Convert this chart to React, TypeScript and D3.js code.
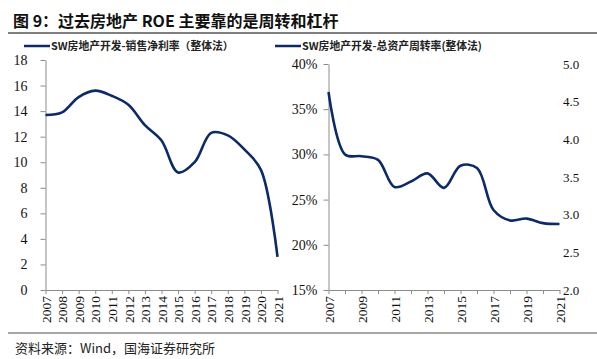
import { useRef, useEffect } from 'react';
import * as d3 from 'd3';

const years = ['2007', '2008', '2009', '2010', '2011', '2012', '2013', '2014', '2015', '2016', '2017', '2018', '2019', '2020', '2021'];
// 销售净利率 (%)
const netMargin = [13.7, 13.9, 15.1, 15.6, 15.2, 14.5, 12.9, 11.7, 9.2, 10.0, 12.3, 12.1, 11.0, 9.4, 2.6];
// 总资产周转率 (%)
const turnover = [36.9, 30.0, 29.8, 29.4, 26.4, 27.0, 27.9, 26.3, 28.75, 28.5, 23.85, 22.7, 22.9, 22.4, 22.3];

const leftTicks = [0, 2, 4, 6, 8, 10, 12, 14, 16, 18];
const pctTicks = [15, 20, 25, 30, 35, 40];
const rightTicks = [2.0, 2.5, 3.0, 3.5, 4.0, 4.5, 5.0];

const title = '图 9：过去房地产 ROE 主要靠的是周转和杠杆';
const legendA = 'SW房地产开发-销售净利率（整体法）';
const legendB = 'SW房地产开发-总资产周转率(整体法)';
const source = '资料来源：Wind，国海证券研究所';

const LINE = '#0c2a68';
const AXIS = '#8c8c8c';
const SERIF = '"Liberation Serif", "Times New Roman", serif';
const CJK = '"Noto Sans CJK SC", sans-serif';

export default function App() {
  const svgRef = useRef<SVGSVGElement>(null);

  useEffect(() => {
    if (!svgRef.current) return;
    const svg = d3.select(svgRef.current);
    svg.selectAll('*').remove();

    // header
    svg.append('text')
      .attr('x', 13).attr('y', 27)
      .attr('font-family', CJK).attr('font-size', 16).attr('font-weight', 700)
      .attr('fill', '#111')
      .text(title);
    svg.append('line')
      .attr('x1', 8).attr('x2', 597).attr('y1', 33).attr('y2', 33)
      .attr('stroke', '#555').attr('stroke-width', 1.3);

    // legends
    const legend = (x: number, label: string) => {
      svg.append('line')
        .attr('x1', x).attr('x2', x + 26).attr('y1', 46).attr('y2', 46)
        .attr('stroke', LINE).attr('stroke-width', 2.5);
      svg.append('text')
        .attr('x', x + 27).attr('y', 50)
        .attr('font-family', CJK).attr('font-size', 10.8).attr('font-weight', 700)
        .attr('fill', '#222')
        .text(label);
    };
    legend(24, legendA);
    legend(275, legendB);

    const styleAxis = (g: d3.Selection<SVGGElement, unknown, null, undefined>, size: number) => {
      g.selectAll('path').attr('stroke', AXIS);
      g.selectAll('line').attr('stroke', AXIS);
      g.selectAll('text').attr('font-family', SERIF).attr('font-size', size).attr('fill', '#111');
    };

    const rotateX = (g: d3.Selection<SVGGElement, unknown, null, undefined>) => {
      g.selectAll('text')
        .attr('transform', 'rotate(-90)')
        .attr('text-anchor', 'end')
        .attr('x', -6).attr('y', 0).attr('dy', '0.35em');
    };

    // left panel
    const x1 = d3.scalePoint().domain(years).range([45.5, 277.5]);
    const y1 = d3.scaleLinear().domain([0, 18]).range([290, 60]);

    const gy1 = svg.append('g').attr('transform', 'translate(45.5,0)')
      .call(d3.axisLeft(y1).tickValues(leftTicks).tickSize(5).tickSizeOuter(0).tickPadding(13).tickFormat(d3.format('d')));
    styleAxis(gy1, 14);
    const gx1 = svg.append('g').attr('transform', 'translate(0,290)')
      .call(d3.axisBottom(x1).tickSize(4).tickSizeOuter(0));
    styleAxis(gx1, 13.5);
    rotateX(gx1);

    const line1 = d3.line<number>()
      .x((_, i) => x1(years[i])!)
      .y((d) => y1(d))
      .curve(d3.curveCatmullRom.alpha(0.5));
    svg.append('path').attr('d', line1(netMargin))
      .attr('fill', 'none').attr('stroke', LINE).attr('stroke-width', 2.6);

    // right panel
    const x2 = d3.scalePoint().domain(years).range([328.5, 559.5]);
    const y2 = d3.scaleLinear().domain([15, 40]).range([290, 64]);
    const y3 = d3.scaleLinear().domain([2, 5]).range([290, 64]);

    const gy2 = svg.append('g').attr('transform', 'translate(328.5,0)')
      .call(d3.axisLeft(y2).tickValues(pctTicks).tickSize(5).tickSizeOuter(0).tickPadding(6).tickFormat((d) => `${d}%`));
    styleAxis(gy2, 14);
    const gx2 = svg.append('g').attr('transform', 'translate(0,290)')
      .call(d3.axisBottom(x2).tickSize(4).tickSizeOuter(0)
        .tickFormat((d) => (Number(d) % 2 === 1 ? d : '')));
    styleAxis(gx2, 13.5);
    rotateX(gx2);

    const gy3 = svg.append('g').attr('transform', 'translate(563,0)')
      .call(d3.axisRight(y3).tickValues(rightTicks).tickSize(0).tickPadding(0).tickFormat(d3.format('.1f')));
    gy3.select('path').remove();
    styleAxis(gy3, 13);

    const line2 = d3.line<number>()
      .x((_, i) => x2(years[i])!)
      .y((d) => y2(d))
      .curve(d3.curveCatmullRom.alpha(0.5));
    svg.append('path').attr('d', line2(turnover))
      .attr('fill', 'none').attr('stroke', LINE).attr('stroke-width', 2.6);

    // footer
    svg.append('line')
      .attr('x1', 8).attr('x2', 597).attr('y1', 333).attr('y2', 333)
      .attr('stroke', '#888').attr('stroke-width', 1.5);
    svg.append('text')
      .attr('x', 15).attr('y', 353)
      .attr('font-family', CJK).attr('font-size', 13)
      .attr('fill', '#222')
      .text(source);
  }, []);

  return (
    <svg ref={svgRef} width={597} height={359}
      style={{ position: 'absolute', left: 0, top: 0, background: '#fff' }} />
  );
}
